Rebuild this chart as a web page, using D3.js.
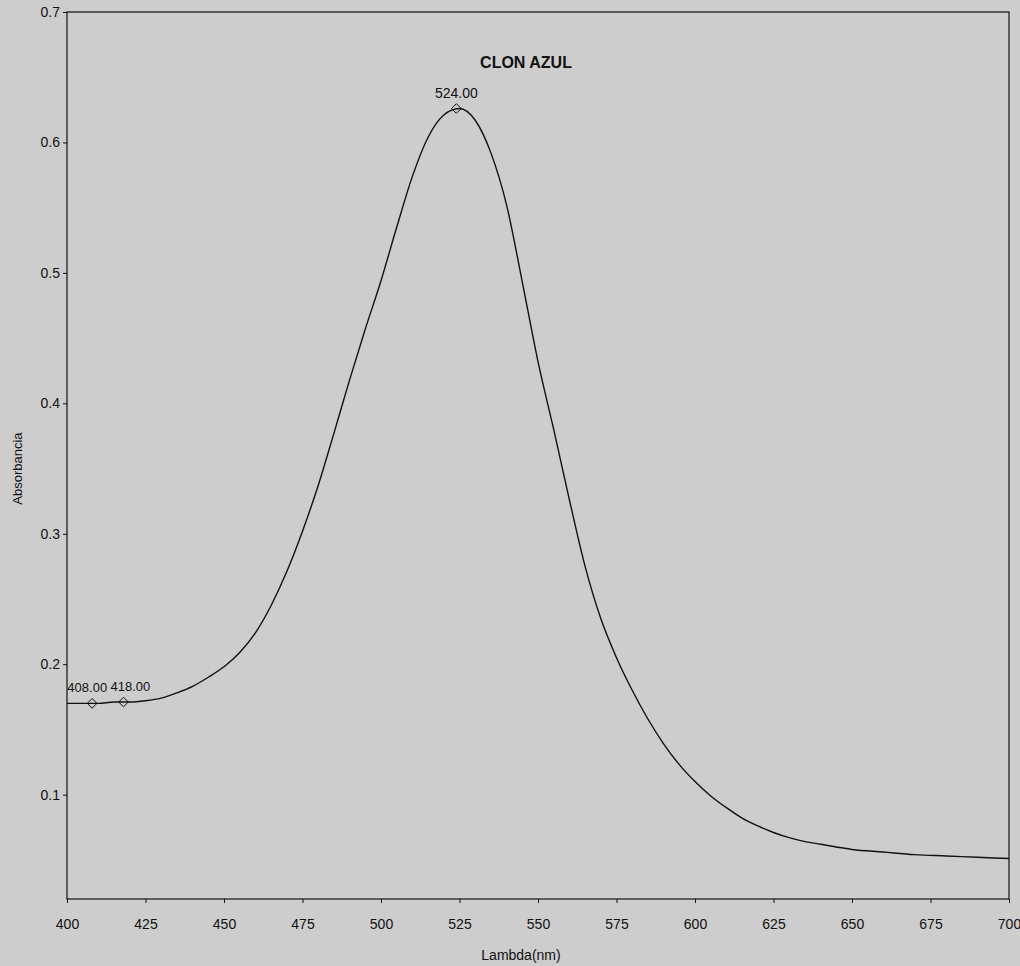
<!DOCTYPE html>
<html>
<head>
<meta charset="utf-8">
<script src="https://cdn.jsdelivr.net/npm/d3@7"></script>
<style>
  body { margin: 0; background: #cdcdcd; }
  svg { display: block; font-family: Arial, "Liberation Sans", sans-serif; }
</style>
</head>
<body>
<svg id="chart"></svg>
<script>
// absorbance spectrum, every 5 nm
const lambda = [400, 405, 410, 415, 420, 425, 430, 435, 440, 445, 450, 455, 460, 465, 470, 475, 480,
  485, 490, 495, 500, 505, 510, 515, 520, 525, 530, 535, 540, 545, 550, 555, 560, 565, 570, 575,
  580, 585, 590, 595, 600, 605, 610, 615, 620, 625, 630, 635, 640, 650, 660, 670, 680, 690, 700]
const absorb = [0.170, 0.170, 0.170, 0.171, 0.171, 0.172, 0.174, 0.178, 0.183, 0.190, 0.198, 0.209,
  0.224, 0.245, 0.271, 0.302, 0.337, 0.377, 0.418, 0.457, 0.494, 0.535, 0.574, 0.604, 0.621, 0.626,
  0.617, 0.592, 0.552, 0.493, 0.432, 0.380, 0.326, 0.275, 0.235, 0.205, 0.180, 0.158, 0.139, 0.123,
  0.110, 0.099, 0.090, 0.082, 0.076, 0.071, 0.067, 0.064, 0.062, 0.058, 0.056, 0.054, 0.053, 0.052,
  0.051]

// marked peaks
const peakLambda = [408, 418, 524]
const peakAbs = [0.170, 0.171, 0.626]
const peakLabels = ['408.00', '418.00', '524.00']
const labelAnchor = ['end', 'start', 'middle']
const labelShift = [15, -13, 0]

const xTicks = [400, 425, 450, 475, 500, 525, 550, 575, 600, 625, 650, 675, 700]
const yTicks = [0.1, 0.2, 0.3, 0.4, 0.5, 0.6, 0.7]

const title = 'CLON AZUL'
const xTitle = 'Lambda(nm)'
const yTitle = 'Absorbancia'

const width = 1020
const height = 966
const margin = { top: 12, right: 11, bottom: 67, left: 67 }

const svg = d3.select('#chart')
  .attr('width', width)
  .attr('height', height)

const x = d3.scaleLinear()
  .domain([400, 700])
  .range([margin.left, width - margin.right])

const y = d3.scaleLinear()
  .domain([0.02, 0.7])
  .range([height - margin.bottom, margin.top])

// frame
svg.append('rect')
  .attr('x', margin.left)
  .attr('y', margin.top)
  .attr('width', width - margin.left - margin.right)
  .attr('height', height - margin.top - margin.bottom)
  .attr('fill', 'none')
  .attr('stroke', '#111')
  .attr('stroke-width', 1.2)

const xAxis = svg.append('g')
  .attr('transform', `translate(0,${height - margin.bottom})`)
  .call(d3.axisBottom(x).tickValues(xTicks).tickSize(4).tickPadding(16).tickFormat(d3.format('d')))
xAxis.select('.domain').remove()

const yAxis = svg.append('g')
  .attr('transform', `translate(${margin.left},0)`)
  .call(d3.axisLeft(y).tickValues(yTicks).tickSize(4).tickPadding(3).tickFormat(d3.format('.1f')))
yAxis.select('.domain').remove()

svg.selectAll('.tick text')
  .attr('font-size', 14)
  .attr('font-family', 'Arial, "Liberation Sans", sans-serif')
  .attr('fill', '#111')
svg.selectAll('.tick line').attr('stroke', '#111')

// spectrum
const line = d3.line()
  .x(i => x(lambda[i]))
  .y(i => y(absorb[i]))
  .curve(d3.curveMonotoneX)

svg.append('path')
  .datum(d3.range(lambda.length))
  .attr('d', line)
  .attr('fill', 'none')
  .attr('stroke', '#111')
  .attr('stroke-width', 1.4)

// peak markers
const diamond = d3.symbol().type(d3.symbolDiamond2).size(60)
const peaks = svg.append('g')
  .selectAll('g')
  .data(d3.range(peakLambda.length))
  .join('g')
  .attr('transform', i => `translate(${x(peakLambda[i])},${y(peakAbs[i])})`)

peaks.append('path')
  .attr('d', diamond)
  .attr('fill', 'none')
  .attr('stroke', '#111')
  .attr('stroke-width', 1)

peaks.append('text')
  .attr('x', i => labelShift[i])
  .attr('y', -11)
  .attr('text-anchor', i => labelAnchor[i])
  .attr('font-size', i => i < 2 ? 13 : 14)
  .attr('fill', '#111')
  .text(i => peakLabels[i])

// titles
svg.append('text')
  .attr('x', 526)
  .attr('y', 68)
  .attr('text-anchor', 'middle')
  .attr('font-size', 16)
  .attr('font-weight', 'bold')
  .attr('fill', '#111')
  .text(title)

svg.append('text')
  .attr('x', 521)
  .attr('y', 960)
  .attr('text-anchor', 'middle')
  .attr('font-size', 14)
  .attr('fill', '#111')
  .text(xTitle)

svg.append('text')
  .attr('transform', `translate(22,${y(0.35)}) rotate(-90)`)
  .attr('text-anchor', 'middle')
  .attr('font-size', 13)
  .attr('fill', '#111')
  .text(yTitle)
</script>
</body>
</html>
